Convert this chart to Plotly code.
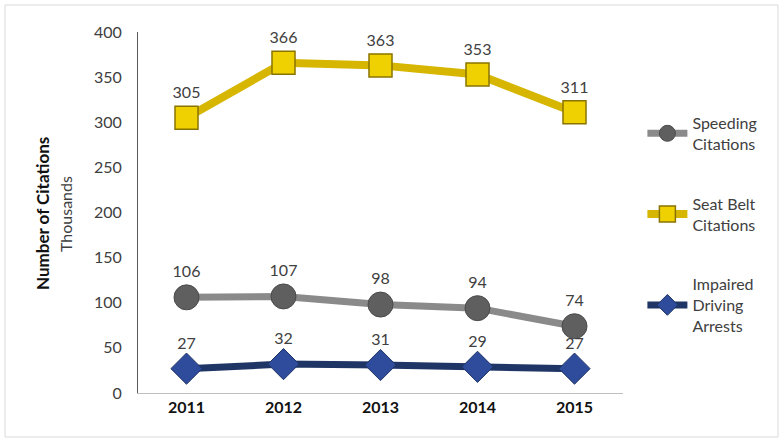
import plotly.graph_objects as go

years = ["2011", "2012", "2013", "2014", "2015"]
speeding = [106, 107, 98, 94, 74]
seat_belt = [305, 366, 363, 353, 311]
impaired = [27, 32, 31, 29, 27]
y_ticks = [0, 50, 100, 150, 200, 250, 300, 350, 400]

FONT = "Lato, 'Open Sans', sans-serif"
LABEL_COLOR = "#404040"

fig = go.Figure()

fig.add_trace(go.Scatter(
    x=years, y=speeding, name="Speeding<br>Citations", legendgroup="a",
    mode="lines+markers+text",
    line=dict(color="#8a8a8a", width=7),
    marker=dict(symbol="circle", size=25, color="#5f5f5f",
                line=dict(color="#4a4a4a", width=1)),
    text=[str(v) for v in speeding], textposition="top center",
    textfont=dict(family=FONT, size=16, color=LABEL_COLOR),
    cliponaxis=False,
))

fig.add_trace(go.Scatter(
    x=years, y=seat_belt, name="Seat Belt<br>Citations", legendgroup="b",
    mode="lines+markers+text",
    line=dict(color="#d6b600", width=8),
    marker=dict(symbol="square", size=23, color="#efd000",
                line=dict(color="#8a7400", width=1.5)),
    text=[str(v) for v in seat_belt], textposition="top center",
    textfont=dict(family=FONT, size=16, color=LABEL_COLOR),
    cliponaxis=False,
))

fig.add_trace(go.Scatter(
    x=years, y=impaired, name="Impaired<br>Driving<br>Arrests", legendgroup="c",
    mode="lines+markers+text",
    line=dict(color="#1f3566", width=7),
    marker=dict(symbol="diamond", size=24, color="#2f4c9c",
                line=dict(color="#1f3566", width=1)),
    text=[str(v) for v in impaired], textposition="top center",
    textfont=dict(family=FONT, size=16, color=LABEL_COLOR),
    cliponaxis=False,
))

fig.update_layout(
    width=782, height=442,
    margin=dict(l=138, r=159, t=32, b=49),
    paper_bgcolor="white", plot_bgcolor="white",
    font=dict(family=FONT, size=16, color=LABEL_COLOR),
    showlegend=True,
    legend=dict(x=1.04, y=(393 - 106) / 361, xanchor="left", yanchor="top",
                tracegroupgap=36, itemwidth=40,
                font=dict(family=FONT, size=16, color=LABEL_COLOR),
                bgcolor="rgba(0,0,0,0)"),
    xaxis=dict(type="category", range=[-0.5, 4.5], showgrid=False,
               showline=True, linecolor="#bfbfbf", linewidth=1,
               ticks="", tickfont=dict(family=FONT, size=16, color="#111111", weight="bold"),
               zeroline=False),
    yaxis=dict(range=[0, 400], tickvals=y_ticks, showgrid=False,
               showline=True, linecolor="#595959", linewidth=1,
               ticks="", ticklabelstandoff=12,
               tickfont=dict(family=FONT, size=16, color=LABEL_COLOR),
               zeroline=False),
    shapes=[dict(type="rect", xref="paper", yref="paper", layer="below",
                 x0=-133/485, x1=(778 - 138) / 485, y0=-44/361, y1=(393 - 5) / 361,
                 line=dict(color="#d9d9d9", width=1))],
    annotations=[
        dict(text="<b>Number of Citations</b>", xref="paper", yref="paper",
             x=-96/485, y=(393 - 214) / 361, textangle=-90, showarrow=False,
             xanchor="center",
             font=dict(family=FONT, size=17, color="#111111")),
        dict(text="Thousands", xref="paper", yref="paper",
             x=-73/485, y=(393 - 214) / 361, textangle=-90, showarrow=False,
             xanchor="center",
             font=dict(family=FONT, size=16, color=LABEL_COLOR)),
    ],
)

fig.write_html("out.html")
